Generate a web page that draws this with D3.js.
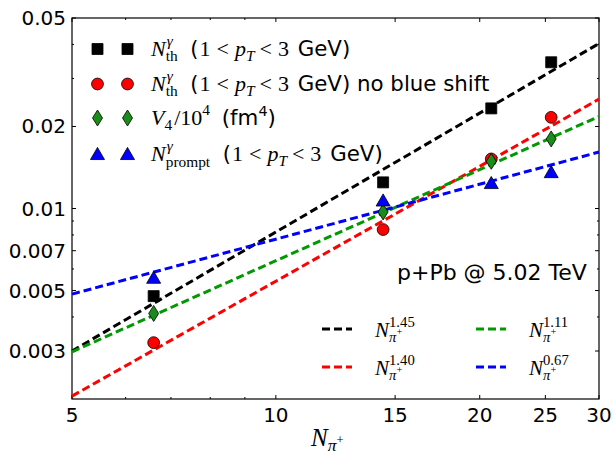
<!DOCTYPE html>
<html>
<head>
<meta charset="utf-8">
<script src="https://cdn.jsdelivr.net/npm/d3@7"></script>
<style>
  html, body { margin: 0; padding: 0; background: #fff; }
  svg text { white-space: pre; }
</style>
</head>
<body>
<svg id="chart" width="615" height="455"></svg>
<script>
// Pion multiplicity (x) for the four centrality classes
const nPi = [6.6, 14.4, 20.8, 25.5];
// Thermal photons with blue shift, 1 < pT < 3 GeV
const nThermal = [0.00477, 0.01247, 0.0233, 0.0344];
// Thermal photons without blue shift
const nThermalNoShift = [0.00322, 0.00837, 0.0152, 0.0216];
// Space-time volume V4 / 10^4 fm^4
const v4 = [0.00412, 0.00971, 0.0149, 0.0180];
// Prompt photons, 1 < pT < 3 GeV
const nPrompt = [0.00557, 0.0107, 0.0124, 0.0136];

// Power-law fits  y = A (N/5)^p
const fitExponents = ["1.45", "1.40", "1.11", "0.67"];
const fitPowers = [1.45, 1.40, 1.11, 0.67];
const fitAmplitudes = [0.00300, 0.00205, 0.00298, 0.00485];
const fitColors = ["#000000", "#ff0000", "#009900", "#0000ff"];

const xTicks = [5, 10, 15, 20, 25, 30];
const xMinorTicks = [6, 7, 8, 9];
const yTicks = [0.003, 0.005, 0.007, 0.01, 0.02, 0.05];
const yTickLabels = ["0.003", "0.005", "0.007", "0.01", "0.02", "0.05"];
const yMinorTicks = [0.004, 0.006, 0.008, 0.009, 0.03, 0.04];

const svg = d3.select("#chart");
const L = 72, R = 599, T = 18, B = 399;

const x = d3.scaleLog().domain([5, 30]).range([L, R]);
const y = d3.scaleLog().domain([0.002, 0.05]).range([B, T]);

const SANS = "DejaVu Sans";
const SERIF = "Liberation Serif";

// Inline math-like text: one <text>, one tspan per run (plain, italic, sub/superscript)
function rich(g, x0, y0, size, runs) {
  const text = g.append("text").attr("fill", "#000");
  let cx = x0, anchor = x0;
  runs.forEach(r => {
    const sx = r.fromAnchor ? anchor : cx + (r.gap || 0);
    const t = text.append("tspan")
      .attr("x", sx).attr("y", y0 + (r.dy || 0) * size / 18)
      .attr("font-size", size * (r.s || 1))
      .attr("font-family", r.f === "s" ? SANS : SERIF)
      .attr("font-style", r.f === "mi" ? "italic" : "normal")
      .text(r.t);
    const ex = sx + t.node().getComputedTextLength();
    cx = r.fromAnchor ? Math.max(cx, ex) : ex;
    if (r.mark) anchor = cx;
  });
  return cx;
}

// Frame
svg.append("rect").attr("x", L).attr("y", T).attr("width", R - L).attr("height", B - T)
  .attr("fill", "none").attr("stroke", "#000").attr("stroke-width", 1.2);

// Ticks: pointing inward on all four sides
const ticks = svg.append("g").attr("stroke", "#000").attr("stroke-width", 1);
function hTick(v, len) {
  ticks.append("line").attr("x1", L).attr("x2", L + len).attr("y1", y(v)).attr("y2", y(v));
  ticks.append("line").attr("x1", R).attr("x2", R - len).attr("y1", y(v)).attr("y2", y(v));
}
function vTick(v, len) {
  ticks.append("line").attr("y1", B).attr("y2", B - len).attr("x1", x(v)).attr("x2", x(v));
  ticks.append("line").attr("y1", T).attr("y2", T + len).attr("x1", x(v)).attr("x2", x(v));
}
yTicks.forEach(v => hTick(v, 4));
yMinorTicks.forEach(v => hTick(v, 2));
xTicks.forEach(v => vTick(v, 4));
xMinorTicks.forEach(v => vTick(v, 2));

// Tick labels
svg.append("g").selectAll("text").data(yTicks).join("text")
  .attr("x", L - 6).attr("y", d => y(d) + 7)
  .attr("text-anchor", "end").attr("font-family", SANS).attr("font-size", 20)
  .text((d, i) => yTickLabels[i]);
svg.append("g").selectAll("text").data(xTicks).join("text")
  .attr("x", d => x(d)).attr("y", B + 23)
  .attr("text-anchor", "middle").attr("font-family", SANS).attr("font-size", 20)
  .text(d => d);

// Axis title N_{pi+}
rich(svg.append("g"), 311, 446, 25, [
  { t: "N", f: "mi" },
  { t: "π", f: "mi", s: 0.7, dy: 3.5, gap: 0 },
  { t: "+", f: "m", s: 0.5, dy: -1.5 }
]);

// Fit lines
const plot = svg.append("g");
const line = d3.line().x(d => x(d[0])).y(d => y(d[1]));
fitPowers.forEach((p, i) => {
  const pts = x.domain().map(n => [n, fitAmplitudes[i] * Math.pow(n / 5, p)]);
  plot.append("path").attr("d", line(pts))
    .attr("fill", "none").attr("stroke", fitColors[i])
    .attr("stroke-width", 3).attr("stroke-dasharray", "8,4");
});

// Markers
const sym = {
  square: d3.symbol().type(d3.symbolSquare).size(121),
  circle: d3.symbol().type(d3.symbolCircle).size(110),
  triangle: d3.symbol().type(d3.symbolTriangle).size(85)
};
function diamondPath(w, h) {
  return `M0,${-h / 2}L${w / 2},0L0,${h / 2}L${-w / 2},0Z`;
}
function marker(g, kind, cx, cy) {
  let p;
  if (kind === "square") p = g.append("path").attr("d", sym.square()).attr("fill", "#000");
  else if (kind === "circle") p = g.append("path").attr("d", sym.circle()).attr("fill", "#ff0000");
  else if (kind === "diamond") p = g.append("path").attr("d", diamondPath(10, 16)).attr("fill", "#1a8c1a");
  else p = g.append("path").attr("d", sym.triangle()).attr("fill", "#0000ff");
  p.attr("stroke", "#000").attr("stroke-width", 0.8);
  const dy = kind === "triangle" ? 1.5 : 0;
  p.attr("transform", `translate(${cx},${cy + dy})`);
}

const series = [
  { vals: nThermal, kind: "square" },
  { vals: nThermalNoShift, kind: "circle" },
  { vals: v4, kind: "diamond" },
  { vals: nPrompt, kind: "triangle" }
];
const marks = svg.append("g");
series.forEach(s => s.vals.forEach((v, i) => marker(marks, s.kind, x(nPi[i]), y(v))));

// Upper-left legend for the data points
const leg = svg.append("g");
const rowsY = [49, 84, 118, 154];
const ptRange = [
  { t: "1", f: "m", gap: 1 }, { t: "<", f: "m", gap: 6 }, { t: "p", f: "mi", gap: 6 },
  { t: "T", f: "mi", s: 0.7, dy: 4 }, { t: "<", f: "m", gap: 5 }, { t: "3", f: "m", gap: 6 }
];
const legendRuns = [
  [
    { t: "N", f: "mi", mark: true },
    { t: "γ", f: "mi", s: 0.7, dy: -8, gap: 1 },
    { t: "th", f: "m", s: 0.7, dy: 4, fromAnchor: true },
    { t: " (", f: "s", s: 0.95, gap: 6 }, ...ptRange,
    { t: " GeV)", f: "s", s: 0.97, gap: 2 }
  ],
  [
    { t: "N", f: "mi", mark: true },
    { t: "γ", f: "mi", s: 0.7, dy: -8, gap: 1 },
    { t: "th", f: "m", s: 0.7, dy: 4, fromAnchor: true },
    { t: " (", f: "s", s: 0.95, gap: 6 }, ...ptRange,
    { t: " GeV) no blue shift", f: "s", s: 0.97, gap: 2 }
  ],
  [
    { t: "V", f: "mi" },
    { t: "4", f: "m", s: 0.7, dy: 4 },
    { t: "/10", f: "m", gap: 2 },
    { t: "4", f: "m", s: 0.7, dy: -8 },
    { t: " (fm", f: "s", s: 0.97, gap: 5 },
    { t: "4", f: "s", s: 0.65, dy: -7 },
    { t: ")", f: "s", s: 0.97 }
  ],
  [
    { t: "N", f: "mi", mark: true },
    { t: "γ", f: "mi", s: 0.7, dy: -8, gap: 1 },
    { t: "prompt", f: "m", s: 0.7, dy: 5, fromAnchor: true },
    { t: " (", f: "s", s: 0.95, gap: 6 }, ...ptRange,
    { t: " GeV)", f: "s", s: 0.97, gap: 2 }
  ]
];
series.forEach((s, i) => {
  marker(leg, s.kind, 97.5, rowsY[i]);
  marker(leg, s.kind, 127.5, rowsY[i]);
  rich(leg, 151, rowsY[i] + 7, 22, legendRuns[i]);
});

// Collision system annotation
svg.append("text").attr("x", 397).attr("y", 280)
  .attr("font-family", SANS).attr("font-size", 22).text("p+Pb @ 5.02 TeV");

// Lower-right legend for the fit lines
const fitLeg = svg.append("g");
const fitPos = [[322, 329], [322, 367], [476, 329], [476, 367]];
fitPowers.forEach((p, i) => {
  const [lx, ly] = fitPos[i];
  fitLeg.append("line").attr("x1", lx).attr("x2", lx + 30).attr("y1", ly).attr("y2", ly)
    .attr("stroke", fitColors[i]).attr("stroke-width", 3).attr("stroke-dasharray", "8,4");
  rich(fitLeg, lx + 53, ly + 8, 21, [
    { t: "N", f: "mi", mark: true },
    { t: "π", f: "mi", s: 0.7, dy: 4, gap: 0 },
    { t: "+", f: "m", s: 0.5, dy: -1.5 },
    { t: fitExponents[i], f: "m", s: 0.7, dy: -9, fromAnchor: true, gap: 1 }
  ]);
});
</script>
</body>
</html>
